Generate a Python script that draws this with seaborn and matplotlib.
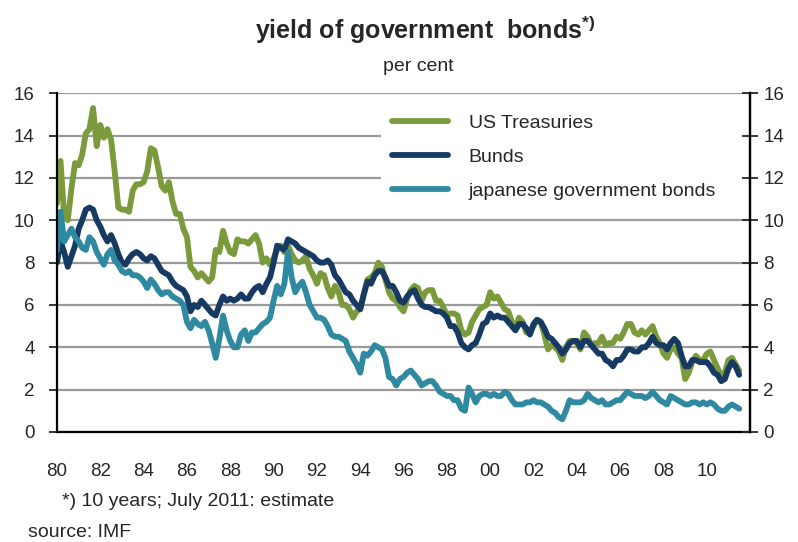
import pandas as pd
import matplotlib
matplotlib.use("Agg")
import matplotlib.pyplot as plt
import matplotlib.dates as mdates
from matplotlib.patches import Rectangle
from matplotlib.ticker import FuncFormatter
import seaborn as sns

# values every second month (Jan, Mar, May, Jul, Sep, Nov), 1980 - July 2011
us_treasuries = [
    10.8, 12.8, 10.2, 10.0, 11.5, 12.7,   # 1980
    12.6, 13.1, 14.1, 14.3, 15.3, 13.5,   # 1981
    14.5, 13.9, 14.3, 13.8, 12.3, 10.6,   # 1982
    10.5, 10.5, 10.4, 11.4, 11.7, 11.7,   # 1983
    11.8, 12.3, 13.4, 13.3, 12.5, 11.6,   # 1984
    11.4, 11.8, 10.9, 10.3, 10.3, 9.6,    # 1985
    9.2, 7.8, 7.6, 7.3, 7.5, 7.3,         # 1986
    7.1, 7.3, 8.6, 8.5, 9.5, 8.9,         # 1987
    8.5, 8.4, 9.1, 9.0, 9.0, 8.9,         # 1988
    9.1, 9.3, 8.9, 8.0, 8.2, 7.9,         # 1989
    8.2, 8.6, 8.8, 8.5, 8.8, 8.4,         # 1990
    8.1, 8.0, 8.1, 8.3, 7.7, 7.4,         # 1991
    7.0, 7.5, 7.4, 6.8, 6.4, 6.9,         # 1992
    6.6, 6.0, 6.0, 5.8, 5.4, 5.7,         # 1993
    5.8, 6.5, 7.2, 7.3, 7.5, 8.0,         # 1994
    7.8, 7.2, 6.6, 6.3, 6.2, 5.9,         # 1995
    5.7, 6.3, 6.7, 6.9, 6.8, 6.2,         # 1996
    6.6, 6.7, 6.7, 6.2, 6.2, 5.9,         # 1997
    5.5, 5.6, 5.6, 5.5, 4.8, 4.6,         # 1998
    4.7, 5.2, 5.5, 5.8, 5.9, 6.0,         # 1999
    6.6, 6.3, 6.4, 6.1, 5.8, 5.7,         # 2000
    5.2, 4.9, 5.4, 5.2, 4.7, 4.7,         # 2001
    5.0, 5.3, 5.2, 4.6, 3.9, 4.1,         # 2002
    4.0, 3.8, 3.4, 4.0, 4.3, 4.3,         # 2003
    4.2, 3.9, 4.7, 4.5, 4.1, 4.2,         # 2004
    4.2, 4.5, 4.1, 4.2, 4.2, 4.5,         # 2005
    4.4, 4.7, 5.1, 5.1, 4.7, 4.6,         # 2006
    4.8, 4.6, 4.8, 5.0, 4.5, 4.2,         # 2007
    3.7, 3.5, 3.9, 4.0, 3.7, 3.5,         # 2008
    2.5, 2.8, 3.3, 3.6, 3.4, 3.4,         # 2009
    3.7, 3.8, 3.4, 3.0, 2.7, 2.8,         # 2010
    3.4, 3.5, 3.2, 2.9,                   # 2011
]

bunds = [
    8.0, 9.0, 8.5, 7.8, 8.3, 8.8,         # 1980
    9.6, 10.0, 10.5, 10.6, 10.5, 10.0,    # 1981
    9.7, 9.3, 9.0, 9.3, 8.9, 8.4,         # 1982
    8.0, 7.9, 8.2, 8.4, 8.5, 8.4,         # 1983
    8.2, 8.1, 8.3, 8.2, 7.9, 7.6,         # 1984
    7.5, 7.4, 7.1, 6.9, 6.8, 6.7,         # 1985
    6.4, 5.7, 6.0, 5.9, 6.2, 6.0,         # 1986
    5.8, 5.6, 5.5, 6.0, 6.4, 6.2,         # 1987
    6.3, 6.2, 6.3, 6.5, 6.3, 6.3,         # 1988
    6.6, 6.8, 6.9, 6.6, 7.0, 7.3,         # 1989
    8.0, 8.8, 8.7, 8.6, 9.1, 9.0,         # 1990
    8.9, 8.7, 8.6, 8.5, 8.4, 8.3,         # 1991
    8.1, 8.0, 8.0, 8.1, 7.9, 7.4,         # 1992
    7.2, 6.9, 6.6, 6.5, 6.2, 6.0,         # 1993
    5.8, 6.5, 7.1, 7.0, 7.4, 7.6,         # 1994
    7.6, 7.3, 6.9, 6.9, 6.6, 6.2,         # 1995
    6.1, 6.4, 6.6, 6.7, 6.3, 6.0,         # 1996
    5.9, 5.9, 5.8, 5.7, 5.7, 5.6,         # 1997
    5.4, 5.0, 5.0, 4.7, 4.2, 4.0,         # 1998
    3.9, 4.1, 4.2, 4.6, 5.1, 5.2,         # 1999
    5.6, 5.4, 5.5, 5.4, 5.4, 5.2,         # 2000
    5.0, 4.8, 5.1, 5.1, 4.9, 4.6,         # 2001
    5.1, 5.3, 5.2, 4.9, 4.5, 4.4,         # 2002
    4.2, 4.0, 3.7, 3.9, 4.2, 4.3,         # 2003
    4.3, 4.0, 4.3, 4.3, 4.1, 3.9,         # 2004
    3.7, 3.7, 3.4, 3.3, 3.1, 3.4,         # 2005
    3.4, 3.6, 3.9, 3.9, 3.8, 3.8,         # 2006
    4.0, 4.0, 4.2, 4.5, 4.2, 4.1,         # 2007
    4.1, 3.9, 4.2, 4.4, 4.2, 3.6,         # 2008
    3.1, 3.1, 3.4, 3.4, 3.3, 3.3,         # 2009
    3.3, 3.1, 2.8, 2.7, 2.4, 2.5,         # 2010
    3.0, 3.3, 3.1, 2.7,                   # 2011
]

japanese = [
    8.6, 10.4, 9.0, 9.3, 9.6, 9.2,        # 1980
    9.0, 8.7, 8.6, 9.2, 9.0, 8.5,         # 1981
    8.2, 7.9, 8.4, 8.6, 8.1, 7.9,         # 1982
    7.6, 7.5, 7.6, 7.4, 7.4, 7.3,         # 1983
    7.1, 6.8, 7.2, 7.0, 6.7, 6.5,         # 1984
    6.6, 6.6, 6.4, 6.3, 6.2, 6.0,         # 1985
    5.2, 4.9, 5.3, 5.1, 5.0, 5.2,         # 1986
    4.8, 4.2, 3.5, 4.4, 5.5, 4.8,         # 1987
    4.3, 4.0, 4.0, 4.6, 4.8, 4.3,         # 1988
    4.7, 4.7, 4.9, 5.1, 5.2, 5.4,         # 1989
    6.2, 6.9, 6.5, 7.0, 8.5, 7.3,         # 1990
    6.6, 6.9, 7.1, 6.6, 6.0, 5.7,         # 1991
    5.4, 5.4, 5.3, 5.0, 4.6, 4.5,         # 1992
    4.5, 4.4, 4.3, 3.8, 3.5, 3.2,         # 1993
    2.8, 3.7, 3.6, 3.8, 4.1, 4.0,         # 1994
    3.9, 3.5, 2.6, 2.5, 2.2, 2.5,         # 1995
    2.6, 2.8, 2.9, 2.7, 2.5, 2.2,         # 1996
    2.3, 2.4, 2.4, 2.2, 1.9, 1.8,         # 1997
    1.7, 1.7, 1.5, 1.5, 1.1, 1.0,         # 1998
    2.1, 1.8, 1.4, 1.7, 1.8, 1.8,         # 1999
    1.7, 1.8, 1.7, 1.7, 1.9, 1.8,         # 2000
    1.5, 1.3, 1.3, 1.3, 1.4, 1.4,         # 2001
    1.5, 1.4, 1.4, 1.3, 1.2, 1.0,         # 2002
    0.9, 0.7, 0.6, 1.0, 1.5, 1.4,         # 2003
    1.4, 1.4, 1.5, 1.8, 1.6, 1.5,         # 2004
    1.4, 1.5, 1.3, 1.3, 1.4, 1.5,         # 2005
    1.5, 1.7, 1.9, 1.8, 1.7, 1.7,         # 2006
    1.7, 1.6, 1.7, 1.9, 1.7, 1.5,         # 2007
    1.4, 1.3, 1.7, 1.6, 1.5, 1.4,         # 2008
    1.3, 1.3, 1.4, 1.4, 1.3, 1.4,         # 2009
    1.3, 1.4, 1.3, 1.1, 1.0, 1.0,         # 2010
    1.2, 1.3, 1.2, 1.1,                   # 2011
]

series_names = ["US Treasuries", "Bunds", "japanese government bonds"]
colors = ["#7a9a3b", "#173a63", "#2f8aa1"]
y_ticks = [0, 2, 4, 6, 8, 10, 12, 14, 16]

dates = pd.date_range("1980-01-01", "2011-07-01", freq="2MS")
df = pd.DataFrame({"date": dates,
                   series_names[0]: us_treasuries,
                   series_names[1]: bunds,
                   series_names[2]: japanese})
long = df.melt(id_vars="date", var_name="series", value_name="yield")

sns.set_style("white")
plt.rcParams["font.family"] = ["Liberation Sans", "DejaVu Sans"]
plt.rcParams["mathtext.default"] = "regular"

fig = plt.figure(figsize=(7.98, 5.42), dpi=100)
ax = fig.add_axes([0.0714, 0.203, 0.8686, 0.625])

sns.lineplot(data=long, x="date", y="yield", hue="series", hue_order=series_names,
             palette=colors, linewidth=4.2, ax=ax)

ax.set_ylim(0, 16)
ax.set_yticks(y_ticks)
ax.set_xlim(pd.Timestamp("1980-01-01"), pd.Timestamp("2012-01-01"))
ax.set_xlabel("")
ax.set_ylabel("")
ax.yaxis.grid(True, color="#9a9a9a", linewidth=1.6)
ax.set_axisbelow(True)


def year_label(v, p):
    yr = mdates.num2date(v).year
    return mdates.num2date(v).strftime("%y") if yr % 2 == 0 and yr < 2012 else ""


ax.xaxis.set_major_locator(mdates.YearLocator(1))
ax.xaxis.set_major_formatter(FuncFormatter(year_label))
ax.tick_params(axis="x", direction="out", length=4, width=1.3, pad=18, labelsize=13.5)
ax.tick_params(axis="y", direction="out", length=6, width=1.3, pad=10, labelsize=13.5)

for s in ["left", "bottom", "right"]:
    ax.spines[s].set_color("black")
    ax.spines[s].set_linewidth(1.6)
ax.spines["top"].set_visible(False)

# right axis with same scale
ax2 = ax.twinx()
ax2.set_ylim(0, 16)
ax2.set_yticks(y_ticks)
ax2.tick_params(axis="y", direction="inout", length=11, width=1.3, pad=4, labelsize=13.5)
for s in ["left", "bottom", "top"]:
    ax2.spines[s].set_visible(False)
ax2.spines["right"].set_color("black")
ax2.spines["right"].set_linewidth(1.6)

# white box behind the legend hides the gridlines
ax.add_patch(Rectangle((0.4675, 0.65), 0.5325, 0.335, transform=ax.transAxes,
                       facecolor="white", edgecolor="none", zorder=1.5))

handles, labels = ax.get_legend_handles_labels()
leg = ax.legend(handles, labels, loc="upper left", bbox_to_anchor=(0.4834, 0.938),
                frameon=False, fontsize=14, handlelength=2.9, handletextpad=1.05,
                labelspacing=0.85, borderaxespad=0, borderpad=0)
for line in leg.get_lines():
    line.set_linewidth(4.2)

fig.text(0.533, 0.945, "yield of government  bonds$^{*)}$", ha="center", va="center",
         fontsize=18, fontweight="bold")
fig.text(0.524, 0.878, "per cent", ha="center", va="center", fontsize=14)
fig.text(0.078, 0.074, "*) 10 years; July 2011: estimate", ha="left", va="center", fontsize=14)
fig.text(0.035, 0.017, "source: IMF", ha="left", va="center", fontsize=14)

fig.savefig("out.png", dpi=100)
